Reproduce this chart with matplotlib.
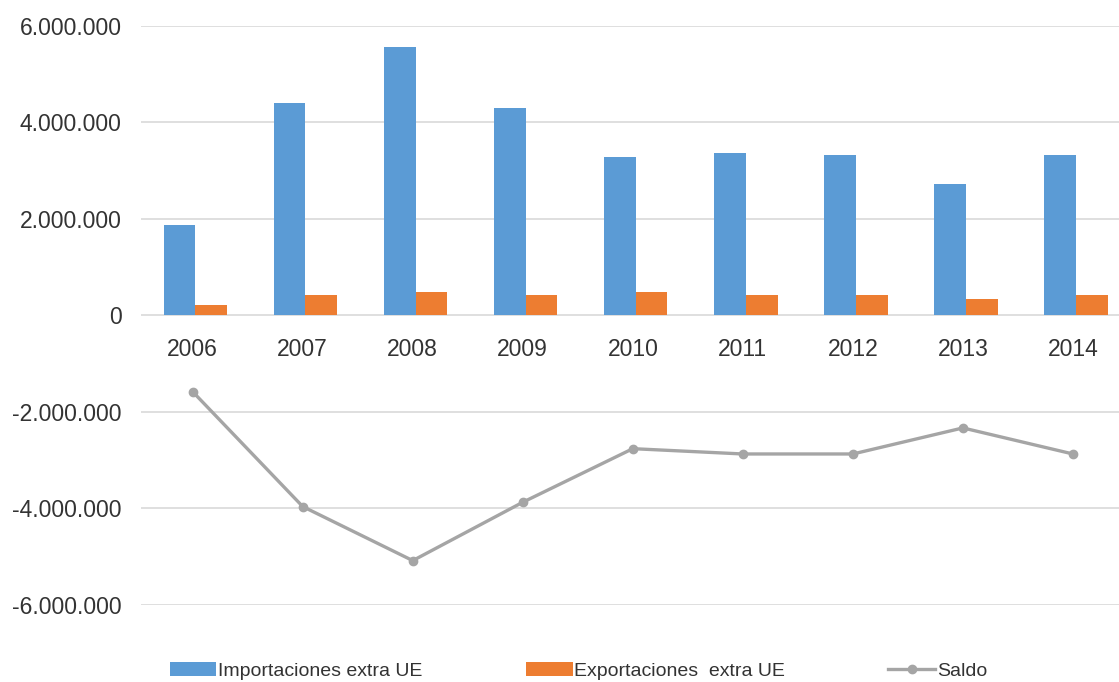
import matplotlib.pyplot as plt
from matplotlib.ticker import FuncFormatter

plt.rcParams['font.family'] = ['Liberation Sans', 'DejaVu Sans']

# Data
years = ['2006', '2007', '2008', '2009', '2010', '2011', '2012', '2013', '2014']
importaciones = [1880000, 4400000, 5570000, 4310000, 3290000, 3370000, 3330000, 2730000, 3330000]
exportaciones = [210000, 430000, 480000, 430000, 480000, 430000, 430000, 350000, 430000]
saldo = [-1580000, -3960000, -5080000, -3870000, -2760000, -2870000, -2870000, -2330000, -2870000]

blue = '#5B9BD5'
orange = '#ED7D31'
gray = '#A5A5A5'
text_color = '#333333'

fig = plt.figure(figsize=(11.19, 6.82), dpi=100)
ax = fig.add_axes([0.126, 0.1129, 0.882, 0.849])

x = list(range(len(years)))
w = 0.29
off = 0.025
b1 = ax.bar([i - w / 2 + off for i in x], importaciones, width=w, color=blue,
            label='Importaciones extra UE', zorder=2)
b2 = ax.bar([i + w / 2 + off for i in x], exportaciones, width=w, color=orange,
            label='Exportaciones  extra UE', zorder=2)
l1, = ax.plot(x, saldo, color=gray, lw=2.4, marker='o', markersize=6,
              label='Saldo', zorder=3)

ax.set_ylim(-6000000, 6000000)
ax.set_xlim(-0.47, 8.5)
ax.set_yticks(range(-6000000, 6000001, 2000000))
ax.yaxis.set_major_formatter(FuncFormatter(lambda v, p: f'{int(v):,}'.replace(',', '.')))
ax.grid(axis='y', color='#D9D9D9', lw=1.2, zorder=0)
ax.set_axisbelow(True)

ax.set_xticks(x)
ax.set_xticklabels(years)
ax.spines['bottom'].set_position(('data', 0))
for s in ax.spines.values():
    s.set_visible(False)
ax.tick_params(axis='x', length=0, pad=16, labelsize=16.5, labelcolor=text_color)
ax.tick_params(axis='y', length=0, pad=14, labelsize=16.5, labelcolor=text_color)

fig.legend([b1, b2, l1], ['Importaciones extra UE', 'Exportaciones  extra UE', 'Saldo'],
           loc='center', bbox_to_anchor=(0.517, 0.016), ncol=3, frameon=False,
           fontsize=14, handlelength=2.4, handletextpad=0.1, columnspacing=5.3,
           labelcolor=text_color)

plt.savefig('out.png', dpi=100)
